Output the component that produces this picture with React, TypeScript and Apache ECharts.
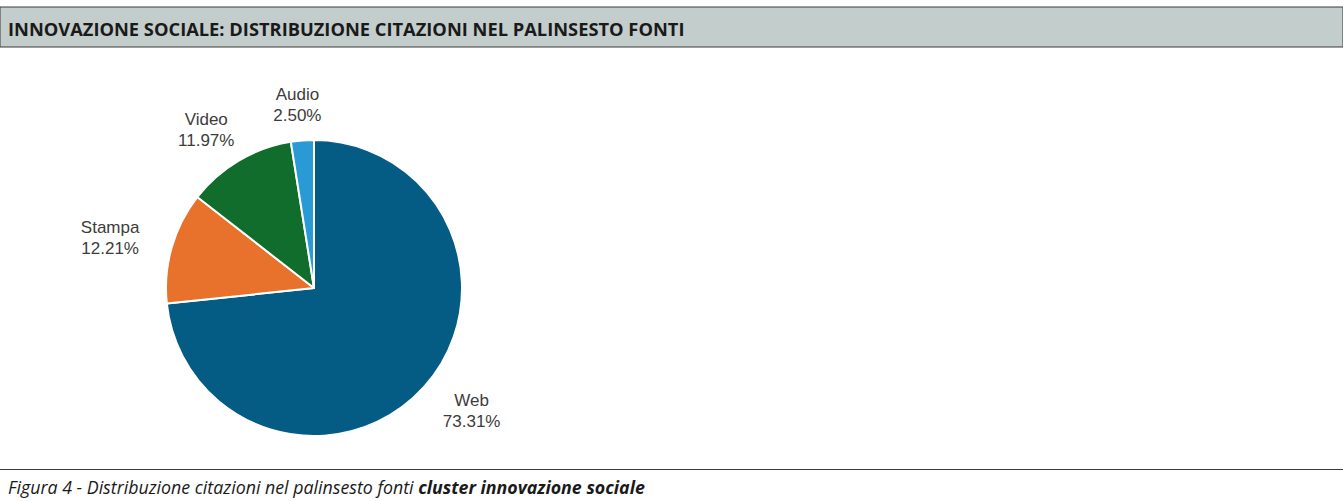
import React, { useEffect, useRef } from "react";
import * as echarts from "echarts";

const categories = ["Web", "Stampa", "Video", "Audio"];
const values = [73.31, 12.21, 11.97, 2.5];
const colors = ["#045b84", "#e8712b", "#106d2b", "#2a9ad6"];
const headerTitle = "INNOVAZIONE SOCIALE: DISTRIBUZIONE CITAZIONI NEL PALINSESTO FONTI";
const captionPlain = "Figura 4 - Distribuzione citazioni nel palinsesto fonti ";
const captionBold = "cluster innovazione sociale";

export default function App() {
  const ref = useRef<HTMLDivElement>(null);
  useEffect(() => {
    document.body.style.margin = "0";
    const chart = echarts.init(ref.current!, null, { renderer: "svg" });
    const cx = 314;
    const cy = 288;
    const r = 148;
    const total = values.reduce((a, b) => a + b, 0);
    const mids: number[] = [];
    let acc = 0;
    values.forEach((v) => {
      mids.push(((acc + v / 2) / total) * Math.PI * 2);
      acc += v;
    });
    chart.setOption({
      animation: false,
      backgroundColor: "#ffffff",
      graphic: [
        {
          type: "rect",
          shape: { x: 0, y: 7, width: 1343, height: 40 },
          style: { fill: "#c3cdcc", stroke: "#3a3a3a", lineWidth: 1 },
          silent: true,
        },
        {
          type: "text",
          x: 8,
          y: 28,
          style: {
            text: headerTitle,
            font: "bold 18.3px 'Open Sans'",
            fill: "#1a1a1a",
            verticalAlign: "middle",
          },
        },
        {
          type: "line",
          shape: { x1: 0, y1: 469.5, x2: 1343, y2: 469.5 },
          style: { stroke: "#3a3a3a", lineWidth: 1 },
        },
        {
          type: "text",
          x: 8,
          y: 487,
          style: {
            text: "{a|" + captionPlain + "}{b|" + captionBold + "}",
            verticalAlign: "middle",
            rich: {
              a: { font: "italic 17.8px 'Open Sans'", fill: "#1a1a1a" },
              b: { font: "italic bold 17.8px 'Open Sans'", fill: "#1a1a1a" },
            },
          },
        },
      ],
      series: [
        {
          type: "pie",
          center: [cx, cy],
          radius: [0, r],
          startAngle: 90,
          clockwise: true,
          avoidLabelOverlap: false,
          itemStyle: { borderColor: "#ffffff", borderWidth: 2 },
          label: {
            show: true,
            position: "outside",
            formatter: (p: any) => p.name + "\n" + p.value.toFixed(2) + "%",
            fontFamily: "'Liberation Sans', Arial, sans-serif",
            fontSize: 17,
            lineHeight: 21,
            color: "#3c3c3c",
            align: "center",
          },
          labelLine: { show: false },
          labelLayout: (params: any) => {
            const a = mids[params.dataIndex];
            return {
              x: cx + Math.sin(a) * 212,
              y: cy - Math.cos(a) * 184,
              align: "center",
              verticalAlign: "middle",
            };
          },
          data: categories.map((name, i) => ({
            name,
            value: values[i],
            itemStyle: { color: colors[i] },
          })),
        },
      ],
    });
    return () => chart.dispose();
  }, []);
  return <div ref={ref} style={{ width: 1343, height: 501 }} />;
}
